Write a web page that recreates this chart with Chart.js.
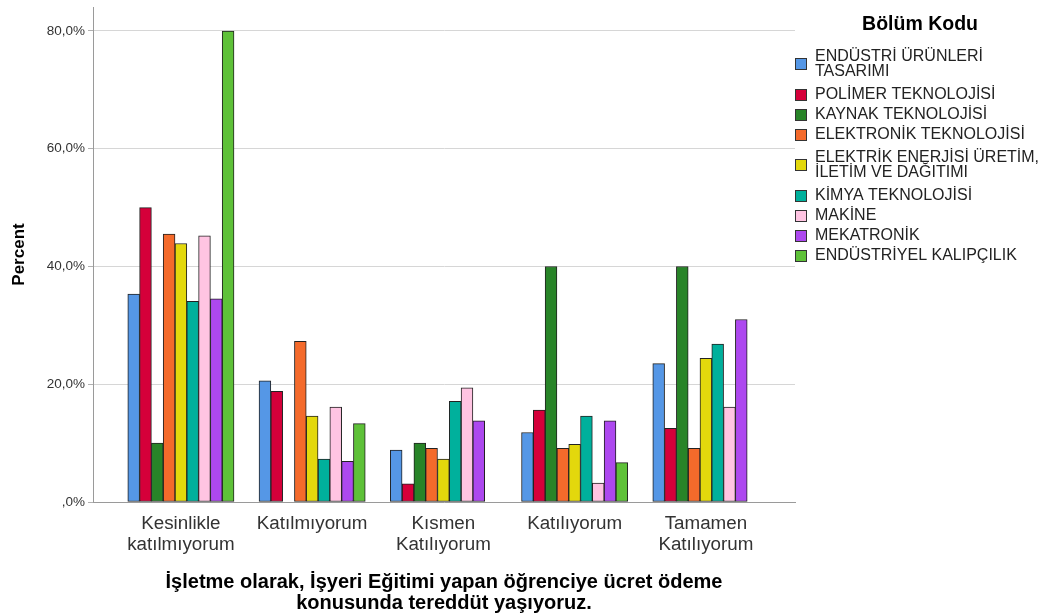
<!DOCTYPE html>
<html>
<head>
<meta charset="utf-8">
<script src="https://cdn.jsdelivr.net/npm/chart.js@4/dist/chart.umd.min.js"></script>
<style>
  html, body { margin: 0; padding: 0; background: #fff; }
  #wrap { width: 1046px; height: 616px; }
</style>
</head>
<body>
<div id="wrap"><canvas id="chart" width="1046" height="616"></canvas></div>
<script>
// ---- data (percent per answer, per department) ----
const categories = [['Kesinlikle', 'katılmıyorum'], 'Katılmıyorum', ['Kısmen', 'Katılıyorum'], 'Katılıyorum', ['Tamamen', 'Katılıyorum']];
const departments = [
  ['ENDÜSTRİ ÜRÜNLERİ', 'TASARIMI'],
  ['POLİMER TEKNOLOJİSİ'],
  ['KAYNAK TEKNOLOJİSİ'],
  ['ELEKTRONİK TEKNOLOJİSİ'],
  ['ELEKTRİK ENERJİSİ ÜRETİM,', 'İLETİM VE DAĞITIMI'],
  ['KİMYA TEKNOLOJİSİ'],
  ['MAKİNE'],
  ['MEKATRONİK'],
  ['ENDÜSTRİYEL KALIPÇILIK'],
];
const endustriUrunleri = [35.3, 20.6, 8.8, 11.8, 23.5];
const polimer = [50.0, 18.8, 3.1, 15.6, 12.5];
const kaynak = [10.0, 0, 10.0, 40.0, 40.0];
const elektronik = [45.5, 27.3, 9.1, 9.1, 9.1];
const elektrik = [43.9, 14.6, 7.3, 9.8, 24.4];
const kimya = [34.1, 7.3, 17.1, 14.6, 26.8];
const makine = [45.2, 16.1, 19.4, 3.2, 16.1];
const mekatronik = [34.5, 6.9, 13.8, 13.8, 31.0];
const kalipcilik = [80.0, 13.3, 0, 6.7, 0];
const seriesValues = [endustriUrunleri, polimer, kaynak, elektronik, elektrik, kimya, makine, mekatronik, kalipcilik];
const seriesColors = ['#5597e6', '#d5003a', '#288428', '#f46a2b', '#e3d80c', '#00b09c', '#ffc4e2', '#ad48ef', '#5ec138'];
const yTicks = [0, 20, 40, 60, 80];

const FONT = "'Liberation Sans', Arial, sans-serif";
Chart.defaults.font.family = FONT;

// SPSS gibi: ",0%" ve "80,0%"
function percentLabel(v) {
  if (v === 0) return ',0%';
  return v.toFixed(1).replace('.', ',') + '%';
}

// ---- legend on the right (multi-line labels) ----
const sideLegend = {
  id: 'sideLegend',
  afterDraw(chart) {
    const ctx = chart.ctx;
    ctx.save();
    ctx.fillStyle = '#000';
    ctx.font = `bold 19.5px ${FONT}`;
    ctx.textAlign = 'center';
    ctx.textBaseline = 'middle';
    ctx.fillText('Bölüm Kodu', 920, 25);

    ctx.font = `16px ${FONT}`;
    ctx.textAlign = 'left';
    let y = 64;
    let prevH = 0;
    chart.data.datasets.forEach((ds, i) => {
      const lines = departments[i];
      const h = lines.length > 1 ? 41 : 20;
      if (i > 0) y += (prevH + h) / 2;
      prevH = h;

      ctx.fillStyle = ds.backgroundColor;
      ctx.fillRect(795, Math.round(y) - 6, 12, 12);
      ctx.strokeStyle = '#333';
      ctx.lineWidth = 1;
      ctx.strokeRect(795.5, Math.round(y) - 5.5, 11, 11);

      ctx.fillStyle = '#222';
      const top = y - (lines.length - 1) * 7.5;
      lines.forEach((t, k) => ctx.fillText(t, 815, top + k * 15));
    });
    ctx.restore();
  },
};

const datasets = seriesValues.map((vals, i) => ({
  label: departments[i].join(' '),
  data: vals.map((v, k) => ({ x: k, y: v })),
  backgroundColor: seriesColors[i],
  borderColor: '#222',
  borderWidth: 1,
  borderSkipped: false,
  barThickness: 11.8,
}));

new Chart(document.getElementById('chart'), {
  type: 'bar',
  data: { datasets },
  plugins: [sideLegend],
  options: {
    responsive: false,
    animation: false,
    devicePixelRatio: 1,
    layout: { padding: { top: 7, right: 251, bottom: 0, left: 0 } },
    plugins: { legend: { display: false }, tooltip: { enabled: false } },
    scales: {
      x: {
        type: 'linear',
        offset: false,
        min: -0.6697,
        max: 4.679,
        afterBuildTicks: (s) => { s.ticks = categories.map((_, i) => ({ value: i })); },
        afterFit: (s) => { s.height = 114; s.paddingLeft = 0; s.paddingRight = 0; },
        grid: { display: false, offset: false },
        border: { display: true, color: '#9a9a9a', width: 1 },
        ticks: {
          padding: 4,
          color: '#333',
          font: { size: 18.8, lineHeight: 20.5 / 18.8 },
          callback: (v) => categories[v],
          maxRotation: 0,
          autoSkip: false,
        },
        title: {
          display: true,
          text: ['İşletme olarak, İşyeri Eğitimi yapan öğrenciye ücret ödeme', 'konusunda tereddüt yaşıyoruz.'],
          color: '#000',
          font: { size: 20, weight: 'bold', lineHeight: 21 / 20 },
          padding: { top: 0, bottom: 2.5 },
        },
      },
      y: {
        min: 0,
        max: 84.07,
        afterBuildTicks: (s) => { s.ticks = yTicks.map((v) => ({ value: v })); },
        afterFit: (s) => { s.width = 93; s.paddingTop = 0; s.paddingBottom = 0; },
        grid: { color: '#d6d6d6', lineWidth: 1, tickLength: 5, tickColor: '#b0b0b0' },
        border: { display: true, color: '#9a9a9a', width: 1 },
        ticks: {
          padding: 3,
          color: '#333',
          font: { size: 13.5 },
          callback: (v) => percentLabel(v),
        },
        title: {
          display: true,
          text: 'Percent',
          color: '#000',
          font: { size: 17, weight: 'bold' },
          padding: { top: 9, bottom: 0 },
        },
      },
    },
  },
});
</script>
</body>
</html>
